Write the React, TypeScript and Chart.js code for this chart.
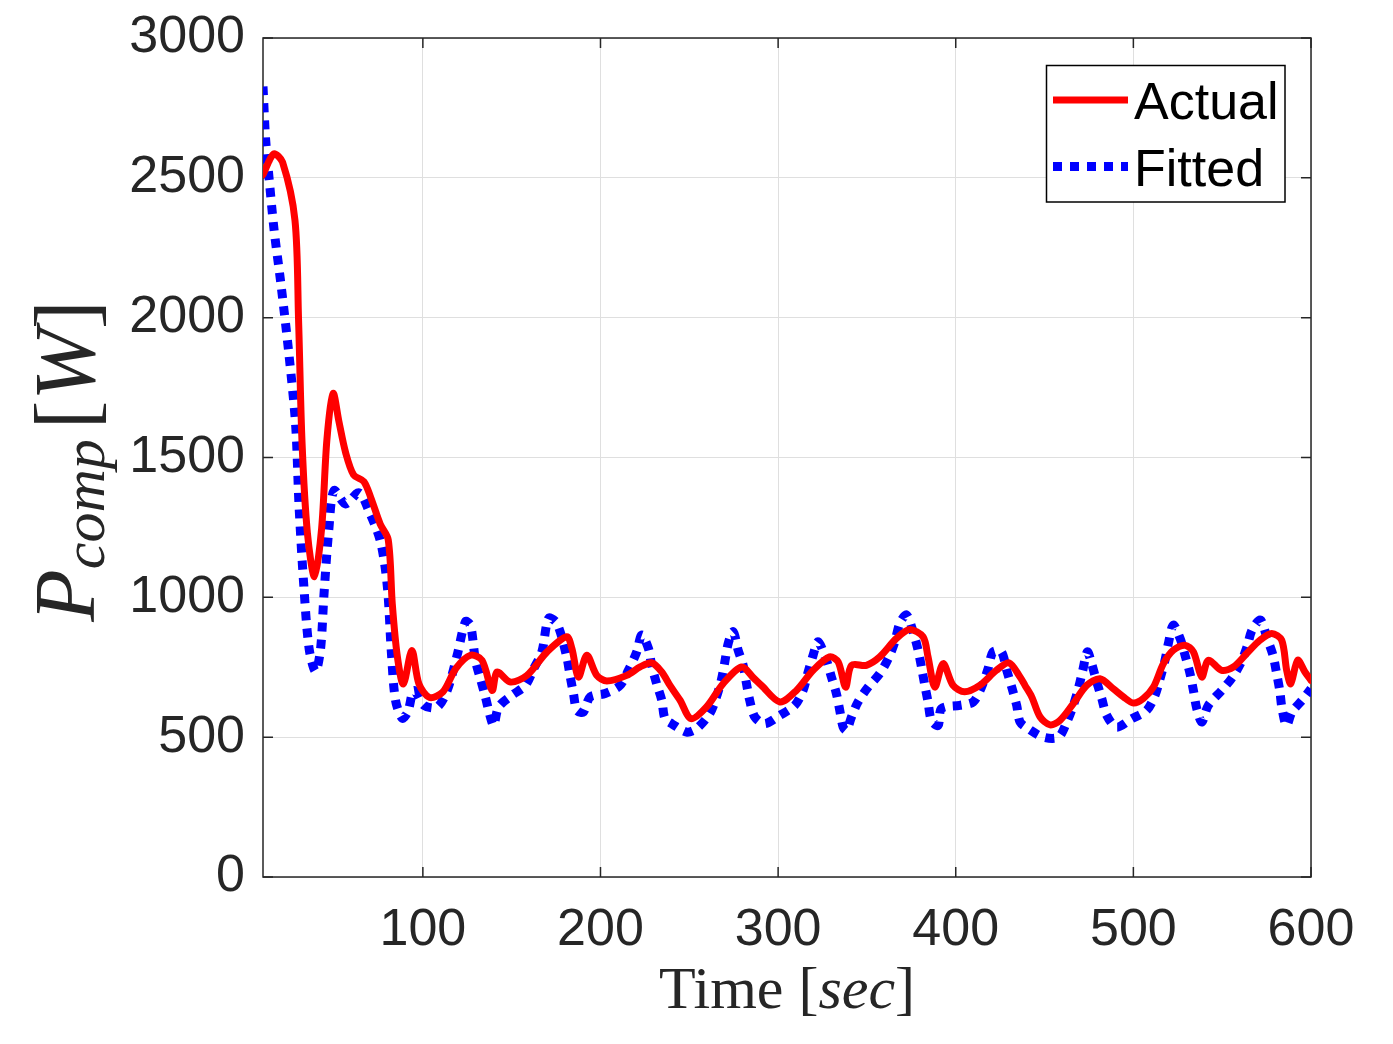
import React, { useEffect, useRef } from "react";
import { Chart, registerables } from "chart.js";

Chart.register(...registerables);

// ---- data ----
const actualTime = [
  10, 16, 21, 28, 30, 32, 35, 39, 43, 46, 49.5, 52.7, 56.5, 61, 66.8, 70.6, 76, 80.5, 82.8, 85.6,
  89, 93.8, 97.8, 103.8, 111.3, 118.6, 126.8, 133.3, 139, 141.8, 149.3, 158.6, 169.9, 181, 183.9,
  187.6, 192.3, 197.9, 203.6, 214.8, 222.3, 228.8, 234.5, 239.1, 244.8, 251, 259.7, 269, 279.4,
  286, 290.6, 301, 310.3, 319.7, 329, 333.8, 338, 341.3, 349.7, 357.2, 366.6, 374, 381.6, 384.4,
  388.2, 392.9, 398.5, 405, 413.5, 422.9, 430, 436.2, 439, 442.8, 447.5, 453.1, 458.7, 466.2,
  473.7, 481.2, 488.7, 494.4, 500, 505.6, 511.3, 516.9, 522.5, 529, 533.8, 538.5, 542.2, 549.7,
  556.3, 563.8, 571.3, 577.9, 583.5, 586.3, 588.6, 592.5, 596.6, 600,
];
const actualPower = [
  2511, 2585, 2556, 2348, 1997, 1550, 1230, 1074, 1246, 1565, 1729, 1630, 1518, 1438, 1414, 1358,
  1262, 1206, 975, 790, 690, 810, 690, 642, 662, 746, 793, 775, 667, 733, 697, 721, 805, 859, 817,
  715, 793, 721, 701, 721, 751, 766, 733, 685, 632, 566, 608, 691, 751, 713, 685, 626, 667, 739,
  787, 769, 679, 757, 757, 787, 853, 885, 859, 787, 679, 763, 685, 662, 685, 739, 766, 715, 685,
  644, 572, 544, 560, 620, 685, 709, 673, 644, 622, 638, 679, 763, 811, 829, 805, 715, 775, 739,
  751, 799, 847, 871, 847, 739, 691, 775, 733, 703,
];
const fittedTime = [
  10, 11.5, 13.4, 16.2, 20, 24.6, 28.4, 30.3, 33, 36, 39.6, 42.4, 44.3, 47.1, 50, 56.5, 64, 69.6,
  76.2, 80, 82.3, 84.6, 88.4, 91.5, 95, 100.6, 108, 113.7, 119.3, 124, 126.8, 129.6, 132.4, 135.2,
  138, 139.9, 142.7, 150.2, 157.7, 162.4, 167, 170.8, 175.5, 181, 183, 184.8, 186.7, 190.4, 194.2,
  202.6, 211, 215.7, 220.4, 223.2, 227, 228.8, 231.6, 234.5, 236.3, 240.1, 248.5, 254, 261.5,
  265.3, 268, 270, 271.9, 274.7, 277.5, 280.3, 282.2, 284, 286.9, 292.5, 301, 309.4, 314, 316.9,
  319.7, 322.5, 327.2, 330, 332.8, 334.7, 336.6, 338.5, 341.3, 345, 350.7, 357.2, 362, 365.7,
  368.5, 372.3, 376, 378.8, 380.7, 382.6, 384.4, 386.3, 390.1, 392, 402.3, 409.8, 414.5, 418.2,
  421, 425.7, 428.7, 431.5, 434.3, 436.2, 440.9, 449.3, 457.8, 462.5, 466.2, 469, 471.5, 474.1,
  476.5, 479.4, 482.2, 485, 490.6, 499.1, 507.5, 512.2, 515, 517.8, 519.7, 522.5, 526.3, 529.1,
  531.9, 533.8, 535.7, 538.5, 542.2, 549.7, 555.2, 560.3, 564, 566.8, 571.5, 575.3, 578.6, 580.5,
  582.4, 583.7, 586.2, 589.3, 595, 600,
];
const fittedPower = [
  2827, 2636, 2500, 2316, 2125, 1869, 1614, 1326, 1039, 815, 735, 815, 1007, 1246, 1382, 1334,
  1374, 1310, 1198, 1039, 800, 632, 568, 590, 667, 614, 607, 667, 793, 913, 901, 775, 709, 644,
  572, 542, 608, 650, 685, 745, 805, 925, 907, 787, 715, 655, 596, 590, 644, 656, 685, 739, 805,
  865, 817, 757, 691, 632, 566, 548, 518, 530, 584, 644, 703, 769, 835, 877, 811, 757, 691, 632,
  572, 548, 578, 614, 667, 733, 793, 841, 775, 715, 656, 596, 536, 524, 572, 626, 679, 727, 781,
  841, 907, 937, 877, 811, 751, 685, 626, 560, 542, 602, 614, 626, 679, 745, 805, 805, 739, 679,
  614, 554, 530, 500, 500, 554, 614, 673, 739, 805, 763, 697, 638, 578, 536, 566, 596, 650, 709,
  775, 835, 901, 853, 793, 727, 667, 602, 554, 614, 667, 709, 763, 823, 883, 919, 853, 793, 733,
  667, 602, 542, 590, 632, 673,
];
const xTicks = [100, 200, 300, 400, 500, 600];
const yTicks = [0, 500, 1000, 1500, 2000, 2500, 3000];
const seriesNames = ["Actual", "Fitted"];

const AXIS = "#262626";
const SANS = "'Liberation Sans', Arial, Helvetica, sans-serif";
const SERIF = "'Liberation Serif', 'Times New Roman', serif";

type Run = { text: string; font: string; dy?: number };

function runsWidth(ctx: CanvasRenderingContext2D, runs: Run[]) {
  let w = 0;
  for (const r of runs) {
    ctx.font = r.font;
    w += ctx.measureText(r.text).width;
  }
  return w;
}
function drawRuns(ctx: CanvasRenderingContext2D, runs: Run[], x: number, y: number) {
  for (const r of runs) {
    ctx.font = r.font;
    ctx.fillText(r.text, x, y + (r.dy || 0));
    x += ctx.measureText(r.text).width;
  }
}

const decorPlugin = {
  id: "decor",
  beforeDatasetsDraw(chart: any) {
    const { ctx, chartArea: a, scales } = chart;
    ctx.save();
    ctx.strokeStyle = AXIS;
    ctx.lineWidth = 1.5;
    ctx.strokeRect(a.left, a.top, a.right - a.left, a.bottom - a.top);
    const tl = 10;
    ctx.beginPath();
    for (const v of xTicks) {
      const x = scales.x.getPixelForValue(v);
      ctx.moveTo(x, a.bottom);
      ctx.lineTo(x, a.bottom - tl);
      ctx.moveTo(x, a.top);
      ctx.lineTo(x, a.top + tl);
    }
    for (const v of yTicks) {
      const y = scales.y.getPixelForValue(v);
      ctx.moveTo(a.left, y);
      ctx.lineTo(a.left + tl, y);
      ctx.moveTo(a.right, y);
      ctx.lineTo(a.right - tl, y);
    }
    ctx.stroke();
    ctx.restore();
  },
  afterDraw(chart: any) {
    const { ctx, chartArea: a } = chart;
    ctx.save();
    ctx.fillStyle = AXIS;
    ctx.textBaseline = "alphabetic";
    ctx.textAlign = "left";

    // x axis title
    const xRuns: Run[] = [
      { text: "Time [", font: `60px ${SERIF}` },
      { text: "sec", font: `italic 60px ${SERIF}` },
      { text: "]", font: `60px ${SERIF}` },
    ];
    const xw = runsWidth(ctx, xRuns);
    drawRuns(ctx, xRuns, (a.left + a.right) / 2 - xw / 2, 1008);

    // y axis title (rotated)
    const yRuns: Run[] = [
      { text: "P", font: `italic 86px ${SERIF}` },
      { text: "comp", font: `italic 60px ${SERIF}`, dy: 10 },
      { text: " ", font: `40px ${SERIF}` },
      { text: "[", font: `86px ${SERIF}` },
      { text: "W", font: `italic 86px ${SERIF}` },
      { text: "]", font: `86px ${SERIF}` },
    ];
    const yw = runsWidth(ctx, yRuns);
    ctx.save();
    ctx.translate(94, 461);
    ctx.rotate(-Math.PI / 2);
    drawRuns(ctx, yRuns, -yw / 2, 0);
    ctx.restore();

    // legend
    const bx = 1046.5, by = 65.5, bw = 238.5, bh = 136.5;
    ctx.fillStyle = "#ffffff";
    ctx.fillRect(bx, by, bw, bh);
    ctx.strokeStyle = "#000000";
    ctx.lineWidth = 1.5;
    ctx.strokeRect(bx, by, bw, bh);
    const ds = chart.data.datasets;
    const rows = [100, 166.5];
    for (let i = 0; i < ds.length; i++) {
      ctx.save();
      ctx.strokeStyle = ds[i].borderColor;
      ctx.lineWidth = ds[i].borderWidth;
      ctx.setLineDash(ds[i].borderDash || []);
      ctx.lineCap = "butt";
      ctx.beginPath();
      ctx.moveTo(1053, rows[i]);
      ctx.lineTo(1128, rows[i]);
      ctx.stroke();
      ctx.restore();
      ctx.fillStyle = "#000000";
      ctx.font = `52px ${SANS}`;
      ctx.fillText(ds[i].label, 1134, rows[i] + 19);
    }
    ctx.restore();
  },
};

export default function App() {
  const ref = useRef<HTMLCanvasElement | null>(null);

  useEffect(() => {
    document.body.style.margin = "0";
    if (!ref.current) return;
    const chart = new Chart(ref.current, {
      type: "line",
      data: {
        datasets: [
          {
            label: seriesNames[0],
            data: actualTime.map((t, i) => ({ x: t, y: actualPower[i] })),
            borderColor: "#ff0000",
            borderWidth: 7,
            pointRadius: 0,
            tension: 0.3,
            fill: false,
            borderJoinStyle: "round",
            borderCapStyle: "round",
          },
          {
            label: seriesNames[1],
            data: fittedTime.map((t, i) => ({ x: t, y: fittedPower[i] })),
            borderColor: "#0000ff",
            borderWidth: 9,
            borderDash: [9, 8],
            pointRadius: 0,
            tension: 0.3,
            fill: false,
          },
        ],
      },
      options: {
        animation: false,
        responsive: false,
        maintainAspectRatio: false,
        devicePixelRatio: 1,
        layout: { padding: { top: 38, right: 82, left: 0, bottom: 0 } },
        plugins: { legend: { display: false }, tooltip: { enabled: false } },
        scales: {
          x: {
            type: "linear",
            min: 10,
            max: 600,
            afterFit: (s: any) => {
              s.height = 167;
              s.paddingLeft = 0;
              s.paddingRight = 0;
            },
            afterBuildTicks: (s: any) => {
              s.ticks = xTicks.map((v) => ({ value: v }));
            },
            grid: { color: "#dfdfdf", lineWidth: 1, drawTicks: false },
            border: { display: false },
            ticks: {
              color: AXIS,
              font: { family: SANS, size: 52 },
              padding: 22,
              maxRotation: 0,
              autoSkip: false,
              callback: (v: any) => String(v),
            },
          },
          y: {
            type: "linear",
            min: 0,
            max: 3000,
            afterFit: (s: any) => {
              s.width = 263;
              s.paddingTop = 0;
              s.paddingBottom = 0;
            },
            afterBuildTicks: (s: any) => {
              s.ticks = yTicks.map((v) => ({ value: v }));
            },
            grid: { color: "#dfdfdf", lineWidth: 1, drawTicks: false },
            border: { display: false },
            ticks: {
              color: AXIS,
              font: { family: SANS, size: 52 },
              padding: 18,
              autoSkip: false,
              callback: (v: any) => String(v),
            },
          },
        },
      },
      plugins: [decorPlugin],
    } as any);
    return () => chart.destroy();
  }, []);

  return (
    <div style={{ position: "absolute", left: 0, top: 0, width: 1393, height: 1044, background: "#fff" }}>
      <canvas ref={ref} width={1393} height={1044} style={{ width: 1393, height: 1044 }} />
    </div>
  );
}
